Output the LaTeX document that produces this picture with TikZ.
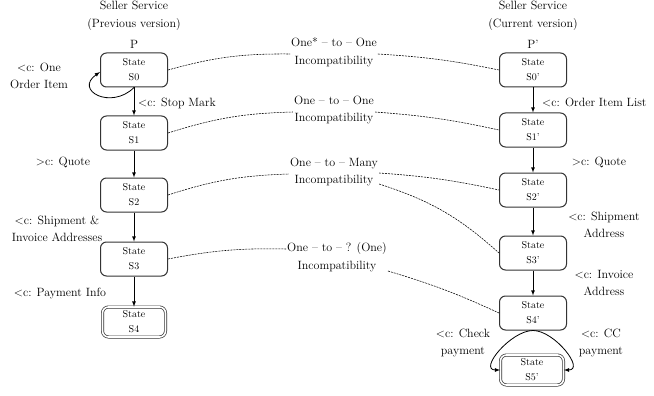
\documentclass[tikz,border=0pt]{standalone}
\usetikzlibrary{arrows}
\begin{document}
\begin{tikzpicture}[x=1pt,y=-1pt,
state/.style={draw=black!80,line width=1pt,rounded corners=6pt,minimum width=67pt,minimum height=34pt,inner sep=1pt,align=center,font=\fontsize{10}{15}\selectfont},
final/.style={state,line width=0.7pt,double,double distance=1.6pt,minimum width=63pt,minimum height=30pt},
lbl/.style={align=center,font=\fontsize{12}{17.5}\selectfont,inner sep=1pt},
arr/.style={-latex,thick},
incomp/.style={dash pattern=on 2pt off 1pt,line width=0.55pt}]

\useasboundingbox (0,0) rectangle (654,396);

% the two versions of the service
\node[lbl] (prev) at (134,16) {Seller Service\\(Previous version)};
\node[lbl] (p) at (134,44) {P};
\node[lbl] (curr) at (533,16) {Seller Service\\(Current version)};
\node[lbl] (pp) at (533,44) {P'};

\foreach \i/\y in {0/70,1/133,2/195,3/259}
{
\node[state] (s\i) at (134,\y) {State\\S\i};
}
\node[final] (s4) at (134,322) {State\\S4};

\foreach \i/\y in {0/70,1/130,2/190,3/253,4/313}
{
\node[state] (t\i) at (533,\y) {State\\S\i'};
}
\node[final] (t5) at (532,370) {State\\S5'};

\foreach \i/\j in {0/1,1/2,2/3,3/4}
{
\draw[arr] (s\i) -- (s\j);
\draw[arr] (t\i) -- (t\j);
}
\draw[arr] (s0.south) to[out=225,in=215,looseness=2.2] ([yshift=-2pt]s0.west);
\draw[arr] (t4.south) to[out=180,in=180,looseness=1.1] (t5.west);
\draw[arr] (t4.south) to[out=0,in=0,looseness=1.1] (t5.east);

% messages
\node[lbl] (lone) at (39,76) {\textless c: One\\Order Item};
\node[lbl,anchor=west] (lstop) at (137,103) {\textless c: Stop Mark};
\node[lbl] (lquote) at (63,162) {\textgreater c: Quote};
\node[lbl] (lship) at (57,229) {\textless c: Shipment \&\\Invoice Addresses};
\node[lbl] (lpay) at (60,293) {\textless c: Payment Info};

\node[lbl,anchor=west] (rlist) at (541,102) {\textless c: Order Item List};
\node[lbl] (rquote) at (599,162) {\textgreater c: Quote};
\node[lbl] (rship) at (604,225) {\textless c: Shipment\\Address};
\node[lbl] (rinv) at (604,283) {\textless c: Invoice\\Address};
\node[lbl] (rcheck) at (463,343) {\textless c: Check\\payment};
\node[lbl] (rcc) at (601,343) {\textless c: CC\\payment};

% incompatibilities
\node[lbl] (inc0) at (334,52) {One* -- to -- One\\Incompatibility};
\node[lbl] (inc1) at (334,110) {One -- to -- One\\Incompatibility};
\node[lbl] (inc2) at (334,172) {One -- to -- Many\\Incompatibility};
\node[lbl] (inc3) at (337,257) {One -- to -- ? (One)\\Incompatibility};

\draw[incomp] (s0.east) to[bend left=8] ([yshift=-2pt]inc0.west);
\draw[incomp] ([yshift=-2pt]inc0.east) to[bend left=4] (t0.west);
\draw[incomp] (s1.east) to[bend left=8] ([yshift=-2pt]inc1.west);
\draw[incomp] ([yshift=-2pt]inc1.east) to[bend left=4] (t1.west);
\draw[incomp] (s2.east) to[bend left=8] ([yshift=-2pt]inc2.west);
\draw[incomp] ([yshift=-1pt]inc2.east) to[bend left=4] (t2.west);
\draw[incomp] ([yshift=-12pt]inc2.east) to[bend left=12] (t3.west);
\draw[incomp] (s3.east) to[bend left=6] ([yshift=8pt]inc3.west);
\draw[incomp] ([yshift=-14pt]inc3.east) to[bend left=4] (t4.west);
\end{tikzpicture}
\end{document}
